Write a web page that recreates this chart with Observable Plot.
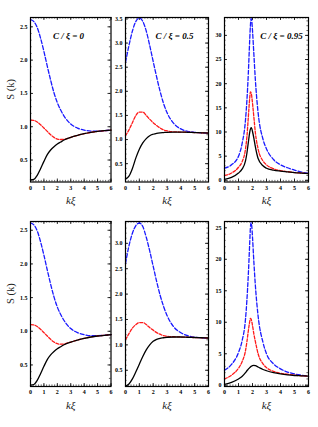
<!DOCTYPE html>
<html><head><meta charset="utf-8">
<script src="https://cdn.jsdelivr.net/npm/d3@7"></script>
<script src="https://cdn.jsdelivr.net/npm/@observablehq/plot@0.6"></script>
<style>
body{margin:0;background:#fff;}
#chart{position:relative;width:318px;height:427px;overflow:hidden;background:#fff;}
#chart svg{position:absolute;background:transparent;overflow:visible;}
</style></head><body><div id="chart"></div>
<script>
// ---- data ----
const kTicks = [0, 1, 2, 3, 4, 5, 6];
const titles = ["C / ξ = 0", "C / ξ = 0.5", "C / ξ = 0.95"];

// panel 1 & 4 (C/ξ = 0)
const kA = [0,0.25,0.5,0.75,1,1.25,1.5,1.75,2,2.25,2.5,3,3.5,4,4.5,5,5.5,6];
const blue1  = [2.61,2.58,2.49,2.33,2.13,1.91,1.70,1.51,1.36,1.25,1.16,1.04,0.98,0.95,0.935,0.935,0.94,0.95];
const red1   = [1.10,1.095,1.07,1.03,0.98,0.93,0.88,0.84,0.815,0.808,0.812,0.84,0.87,0.895,0.915,0.93,0.94,0.95];
const black1 = [0.20,0.21,0.27,0.37,0.48,0.58,0.65,0.70,0.74,0.77,0.80,0.84,0.87,0.895,0.915,0.93,0.94,0.95];
const blue4  = [2.61,2.58,2.49,2.33,2.13,1.91,1.70,1.51,1.36,1.25,1.16,1.04,0.98,0.95,0.935,0.935,0.94,0.95];
const red4   = [1.10,1.095,1.07,1.03,0.98,0.93,0.88,0.84,0.815,0.808,0.812,0.84,0.87,0.895,0.915,0.93,0.94,0.95];
const black4 = [0.20,0.21,0.27,0.37,0.48,0.58,0.65,0.70,0.74,0.77,0.80,0.84,0.87,0.895,0.915,0.93,0.94,0.95];

// panel 2 & 5 (C/ξ = 0.5)
const kB = [0,0.25,0.5,0.75,1,1.25,1.5,1.75,2,2.25,2.5,2.75,3,3.5,4,4.5,5,5.5,6];
const blue2  = [2.60,2.95,3.25,3.45,3.52,3.45,3.25,2.95,2.62,2.30,2.00,1.75,1.56,1.33,1.22,1.17,1.15,1.14,1.13];
const red2   = [1.08,1.20,1.35,1.50,1.57,1.57,1.50,1.42,1.35,1.29,1.24,1.20,1.18,1.16,1.155,1.15,1.145,1.14,1.135];
const black2 = [0.18,0.24,0.40,0.62,0.80,0.93,1.02,1.08,1.11,1.13,1.14,1.145,1.15,1.155,1.155,1.15,1.145,1.14,1.135];
const blue5  = [2.60,2.95,3.20,3.35,3.40,3.33,3.12,2.85,2.55,2.25,1.98,1.76,1.58,1.35,1.24,1.18,1.15,1.14,1.13];
const red5   = [1.10,1.22,1.33,1.40,1.44,1.44,1.40,1.34,1.29,1.24,1.21,1.18,1.17,1.16,1.155,1.15,1.145,1.14,1.135];
const black5 = [0.19,0.23,0.33,0.47,0.62,0.77,0.90,1.00,1.07,1.11,1.13,1.14,1.15,1.155,1.155,1.15,1.145,1.14,1.135];

// panel 3 & 6 (C/ξ = 0.95)
const kC = [0,0.5,1,1.25,1.5,1.6,1.7,1.8,1.85,1.9,1.95,2.0,2.1,2.2,2.4,2.75,3,3.5,4,4.5,5,5.5,6];
const blue3  = [2.5,3.2,5.0,7.5,12.5,16.5,22.0,29.0,32.0,33.5,33.0,31.0,26.0,21.0,14.0,8.5,6.5,4.3,3.2,2.6,2.1,1.7,1.45];
const red3   = [1.0,1.5,2.7,3.8,6.5,9.0,13.0,17.0,18.3,18.1,17.3,16.0,13.0,10.0,6.5,4.0,3.2,2.4,2.0,1.8,1.6,1.5,1.4];
const black3 = [0.2,0.6,1.5,2.3,4.0,5.6,7.8,9.9,10.6,10.9,10.7,10.1,8.7,7.0,4.5,3.0,2.5,2.1,1.9,1.75,1.6,1.5,1.4];
const blue6  = [2.4,3.3,5.2,7.0,10.5,13.5,17.5,22.5,25.0,25.8,25.2,23.5,19.5,16.0,11.0,6.8,5.0,3.4,2.6,2.1,1.8,1.6,1.45];
const red6   = [1.0,1.6,2.7,3.7,5.5,6.9,8.6,10.1,10.6,10.5,10.1,9.5,8.1,7.0,5.0,3.4,2.8,2.2,1.9,1.75,1.6,1.5,1.45];
const black6 = [0.15,0.45,1.0,1.4,2.0,2.3,2.55,2.8,2.9,3.0,3.05,3.1,3.15,3.1,2.9,2.5,2.3,2.0,1.8,1.65,1.55,1.5,1.45];

const yTicksA = [0.5, 1.0, 1.5, 2.0, 2.5];
const yTicksB = [0.5, 1.0, 1.5, 2.0, 2.5, 3.0, 3.5];
const yTicksB5 = [0.5, 1.0, 1.5, 2.0, 2.5, 3.0];
const yTicksC = [0, 5, 10, 15, 20, 25, 30];
const yTicksC6 = [0, 5, 10, 15, 20, 25];

// ---- layout ----
const cols = [{left: 30, w: 80.5}, {left: 125, w: 83}, {left: 224, w: 84}];
const rows = [{top: 16.5, h: 164.5}, {top: 220.5, h: 165}];
const titleDx = [38, 49, 57];
const SERIF = "Liberation Serif, Times New Roman, serif";

const panels = [
  {r:0,c:0,k:kA,blue:blue1,red:red1,black:black1,yDomain:[0.17,2.64],yTicks:yTicksA,yMinor:0.1,fmt:d3.format(".1f"),title:titles[0],ylabel:true},
  {r:0,c:1,k:kB,blue:blue2,red:red2,black:black2,yDomain:[0.12,3.53],yTicks:yTicksB,yMinor:0.1,fmt:d3.format(".1f"),title:titles[1]},
  {r:0,c:2,k:kC,blue:blue3,red:red3,black:black3,yDomain:[-0.35,33.7],yTicks:yTicksC,yMinor:1,fmt:d3.format("d"),title:titles[2]},
  {r:1,c:0,k:kA,blue:blue4,red:red4,black:black4,yDomain:[0.18,2.63],yTicks:yTicksA,yMinor:0.1,fmt:d3.format(".1f"),ylabel:true},
  {r:1,c:1,k:kB,blue:blue5,red:red5,black:black5,yDomain:[0.18,3.43],yTicks:yTicksB5,yMinor:0.1,fmt:d3.format(".1f")},
  {r:1,c:2,k:kC,blue:blue6,red:red6,black:black6,yDomain:[-0.2,26.0],yTicks:yTicksC6,yMinor:1,fmt:d3.format("d")}
];

const ML = 30, MT = 17, MR = 8, MB = 32;
const chart = document.getElementById("chart");

for (const p of panels) {
  const {left, w} = cols[p.c];
  const {top, h} = rows[p.r];
  const rowsOf = s => p.k.map((x, i) => ({k: x, s: s[i]}));
  const xMinor = d3.range(0, 6.0001, 0.2);
  const [y0, y1] = p.yDomain;
  const yMinor = d3.range(Math.ceil(y0 / p.yMinor) * p.yMinor, y1, p.yMinor).filter(v => v >= y0 && v <= y1);
  const L = 3, m = 1.6;
  const marks = [
    Plot.ruleX(xMinor, {x: d => d, insetTop: h - m, strokeWidth: 0.6}),
    Plot.ruleX(xMinor, {x: d => d, insetBottom: h - m, strokeWidth: 0.6}),
    Plot.ruleX(kTicks, {x: d => d, insetTop: h - L, strokeWidth: 0.8}),
    Plot.ruleX(kTicks, {x: d => d, insetBottom: h - L, strokeWidth: 0.8}),
    Plot.ruleY(yMinor, {y: d => d, insetRight: w - m, strokeWidth: 0.6}),
    Plot.ruleY(yMinor, {y: d => d, insetLeft: w - m, strokeWidth: 0.6}),
    Plot.ruleY(p.yTicks, {y: d => d, insetRight: w - L, strokeWidth: 0.8}),
    Plot.ruleY(p.yTicks, {y: d => d, insetLeft: w - L, strokeWidth: 0.8}),
    Plot.line(rowsOf(p.blue), {x: "k", y: "s", stroke: "#1a1aff", strokeWidth: 1.3, strokeDasharray: "4,2", curve: "monotone-x"}),
    Plot.line(rowsOf(p.red), {x: "k", y: "s", stroke: "#ff1a1a", strokeWidth: 1.3, strokeDasharray: "3,1.6", curve: "monotone-x"}),
    Plot.line(rowsOf(p.black), {x: "k", y: "s", stroke: "black", strokeWidth: 1.3, curve: "monotone-x"}),
    Plot.frame({stroke: "black", strokeWidth: 1.2}),
    Plot.text(kTicks, {x: d => d, frameAnchor: "bottom", dy: 6, text: d => String(d), fontSize: 6, fontWeight: "bold", fontFamily: SERIF, lineAnchor: "middle"}),
    Plot.text(p.yTicks, {y: d => d, frameAnchor: "left", dx: -3, text: d => p.fmt(d), textAnchor: "end", fontSize: 6, fontWeight: "bold", fontFamily: SERIF}),
    Plot.text(["kξ"], {frameAnchor: "bottom", dy: 22, fontSize: 11, fontStyle: "italic", fontFamily: SERIF, fill: "#222"})
  ];
  if (p.title) marks.push(Plot.text([p.title], {frameAnchor: "top-left", dx: titleDx[p.c], dy: 15, textAnchor: "middle", fontSize: 9, fontWeight: "bold", fontStyle: "italic", fontFamily: SERIF}));
  if (p.ylabel) marks.push(Plot.text(["S (k)"], {frameAnchor: "left", dx: -20, rotate: -90, fontSize: 10.5, fontFamily: SERIF, fill: "#222"}));

  const svg = Plot.plot({
    width: ML + w + MR,
    height: MT + h + MB,
    marginLeft: ML, marginRight: MR, marginTop: MT, marginBottom: MB,
    x: {domain: [0, 6], axis: null},
    y: {domain: p.yDomain, axis: null},
    style: {background: "transparent", overflow: "visible"},
    marks
  });
  svg.style.position = "absolute";
  svg.style.left = (left - ML) + "px";
  svg.style.top = (top - MT) + "px";
  svg.style.maxWidth = "none";
  chart.appendChild(svg);
}
</script>
</body></html>
